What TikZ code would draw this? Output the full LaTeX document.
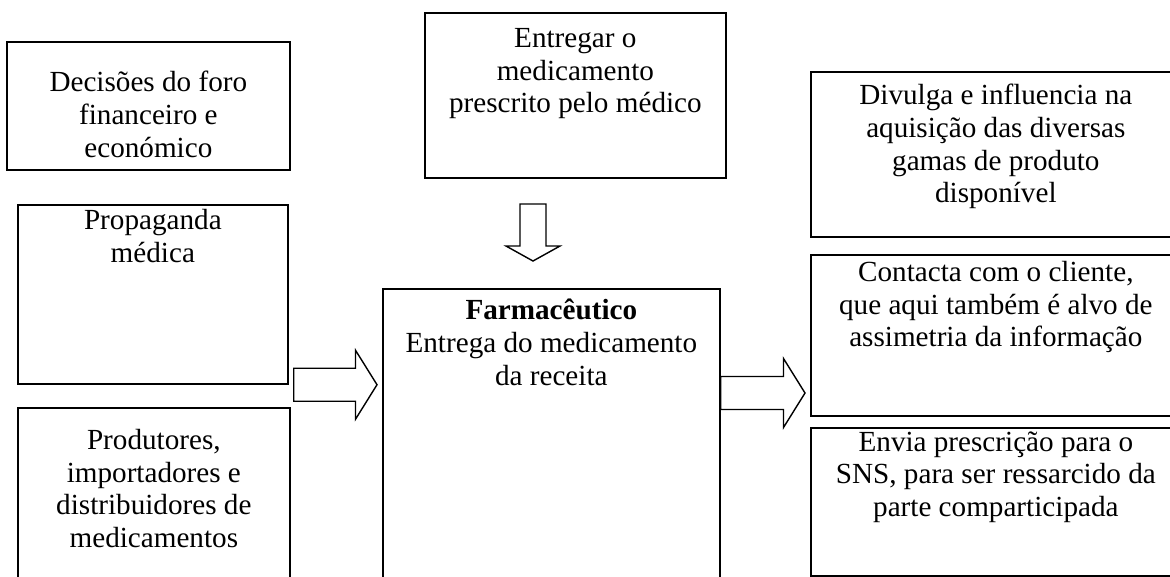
\documentclass[tikz,border=0pt]{standalone}
\usepackage{fontspec}
\setmainfont{Liberation Serif}
\usepackage{tikz}
\usetikzlibrary{calc,positioning}

\newcommand{\blockright}[2]{\draw[blockarrow] ($(#1)+(0,-16.5)$) -- ($(#2)+(-21.5,-16.5)$) -- ($(#2)+(-21.5,-34.5)$) -- (#2) -- ($(#2)+(-21.5,34.5)$) -- ($(#2)+(-21.5,16.5)$) -- ($(#1)+(0,16.5)$) -- cycle;}
\newcommand{\blockdown}[2]{\draw[blockarrow] ($(#1)+(-13,0)$) -- ($(#2)+(-13,-15)$) -- ($(#2)+(-27,-15)$) -- (#2) -- ($(#2)+(27,-15)$) -- ($(#2)+(13,-15)$) -- ($(#1)+(13,0)$) -- cycle;}

\begin{document}
\begin{tikzpicture}[x=0.02cm,y=-0.02cm,
 blockarrow/.style={draw=black,line width=0.8pt,fill=white,line join=miter}]
 \tikzstyle{box}=[draw=black,line width=1pt,rectangle,anchor=north west,inner sep=0pt]
 \tikzstyle{txt}=[anchor=north,inner sep=0pt,align=center,
 font=\fontsize{16.6}{18.6}\selectfont,execute at begin node=\strut]
 \clip (0,0) rectangle (1170,576);

 \node[box,minimum width=5.66cm,minimum height=2.56cm] (dec)  at (6,41)    {};
 \node[box,minimum width=5.40cm,minimum height=3.58cm] (prop) at (17,204)  {};
 \node[box,minimum width=5.44cm,minimum height=3.66cm] (prod) at (17,407)  {};
 \node[box,minimum width=6.02cm,minimum height=3.30cm] (entr) at (424,12)  {};
 \node[box,minimum width=6.74cm,minimum height=6.04cm] (farm) at (382,288) {};
 \node[box,minimum width=7.40cm,minimum height=3.30cm] (div)  at (810,71)  {};
 \node[box,minimum width=7.40cm,minimum height=3.22cm] (cont) at (810,254) {};
 \node[box,minimum width=7.40cm,minimum height=2.96cm] (envi) at (810,427) {};

 \node[txt] (dect)  at ($(dec.north)+(0,30)$)  {Decisões do foro\\financeiro e\\económico};
 \node[txt] (propt) at ($(prop.north)+(0,5)$)  {Propaganda\\médica};
 \node[txt] (prodt) at ($(prod.north)+(0,22)$) {Produtores,\\importadores e\\distribuidores de\\medicamentos};
 \node[txt] (entrt) at ($(entr.north)+(0,16)$) {Entregar o\\medicamento\\prescrito pelo médico};
 \node[txt] (farmt) at ($(farm.north)+(0,11)$) {\textbf{Farmacêutico}\\Entrega do medicamento\\da receita};
 \node[txt] (divt)  at ($(div.north)+(0,13)$)  {Divulga e influencia na\\aquisição das diversas\\gamas de produto\\disponível};
 \node[txt] (contt) at ($(cont.north)+(0,7)$)  {Contacta com o cliente,\\que aqui também é alvo de\\assimetria da informação};
 \node[txt] (envit) at ($(envi.north)+(0,4)$)  {Envia prescrição para o\\SNS, para ser ressarcido da\\parte comparticipada};

 \coordinate (la1) at ($(prop.south east)+(5,0)$);
 \coordinate (la2) at ($(farm.west |- la1)+(-5,0)$);
 \coordinate (ra1) at (farm.east |- 0,393);
 \coordinate (ra2) at ($(cont.west |- ra1)+(-5,0)$);
 \coordinate (da1) at (533,204);
 \coordinate (da2) at ($(da1)+(0,57)$);

 \blockright{la1}{la2}
 \blockright{ra1}{ra2}
 \blockdown{da1}{da2}
\end{tikzpicture}
\end{document}
